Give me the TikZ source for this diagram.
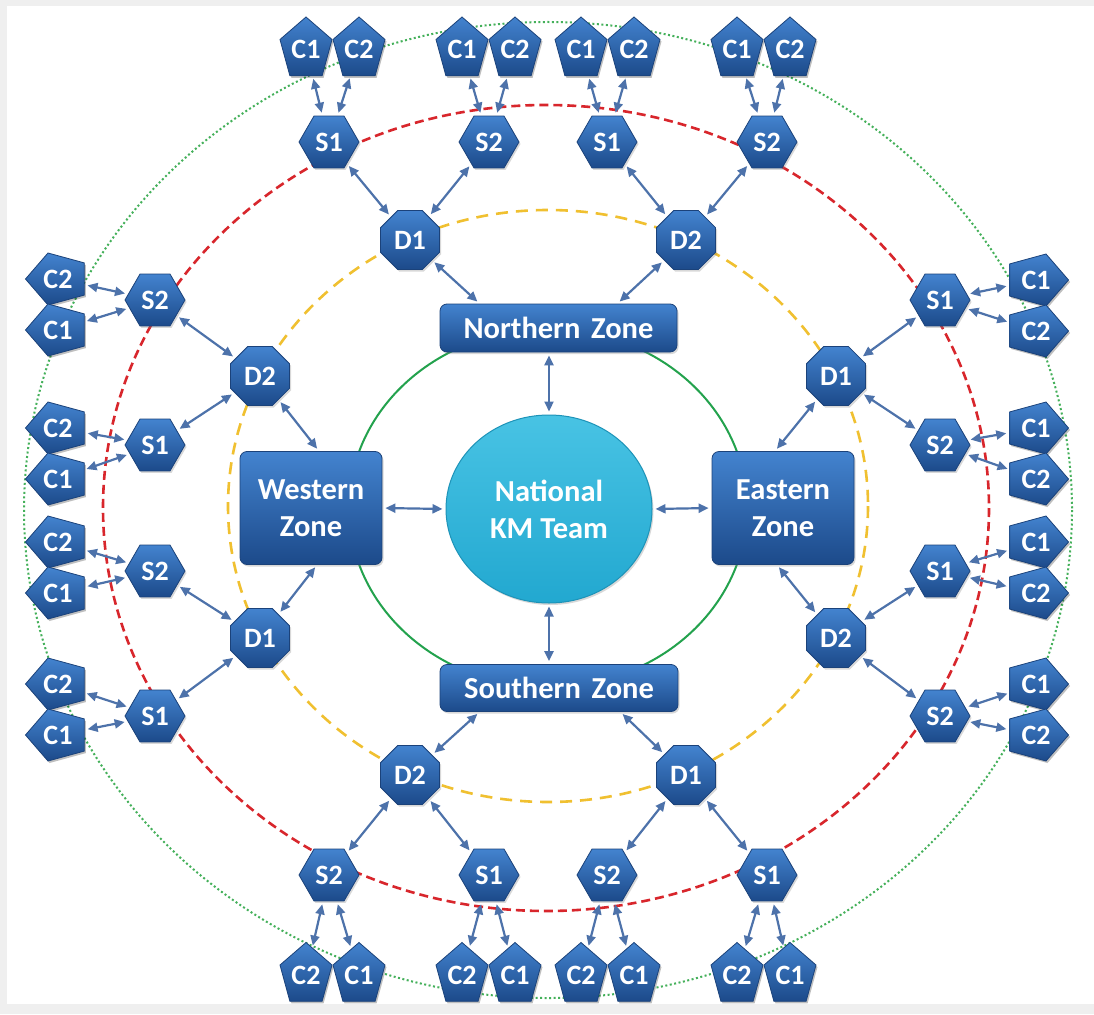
\documentclass[tikz,border=0pt]{standalone}
\usepackage{fontspec}
\setmainfont{Carlito}
\usetikzlibrary{shapes.geometric,arrows.meta,shadows}
\definecolor{nodetop}{HTML}{4383CF}
\definecolor{nodebot}{HTML}{1C4A8A}
\definecolor{nodeedge}{HTML}{1B427A}
\definecolor{arrowc}{HTML}{4D72AA}
\definecolor{kmtop}{HTML}{48C3E4}
\definecolor{kmbot}{HTML}{22A8D0}
\definecolor{kmedge}{HTML}{1D93B8}
\definecolor{ringgreen}{HTML}{23A24D}
\definecolor{ringyellow}{HTML}{F0C030}
\definecolor{ringred}{HTML}{D8262C}
\definecolor{ringdot}{HTML}{44B05A}
\definecolor{framegray}{HTML}{EFEFEF}
\pgfdeclarelayer{bglayer}
\pgfdeclarelayer{pentlayer}
\pgfsetlayers{bglayer,pentlayer,main}
\newcommand\pentup[1]{\begin{pgfonlayer}{pentlayer}
  \fill[pshadow, shift={(#1.center)}, xshift=1.5pt, yshift=-2pt] (0pt,32.5pt) -- (-26pt,10pt) -- (-16.1pt,-26.3pt) -- (16.1pt,-26.3pt) -- (26pt,10pt) -- cycle;
  \shadedraw[pent, shift={(#1.center)}] (0pt,32.5pt) -- (-26pt,10pt) -- (-16.1pt,-26.3pt) -- (16.1pt,-26.3pt) -- (26pt,10pt) -- cycle;
  \end{pgfonlayer}}
\newcommand\pentright[1]{\begin{pgfonlayer}{pentlayer}
  \fill[pshadow, shift={(#1.center)}, xshift=1.5pt, yshift=-2pt] (32.5pt,0pt) -- (10pt,26pt) -- (-26.3pt,16.1pt) -- (-26.3pt,-16.1pt) -- (10pt,-26pt) -- cycle;
  \shadedraw[pent, shift={(#1.center)}] (32.5pt,0pt) -- (10pt,26pt) -- (-26.3pt,16.1pt) -- (-26.3pt,-16.1pt) -- (10pt,-26pt) -- cycle;
  \end{pgfonlayer}}
\newcommand\pentleft[1]{\begin{pgfonlayer}{pentlayer}
  \fill[pshadow, shift={(#1.center)}, xshift=1.5pt, yshift=-2pt] (-32.5pt,0pt) -- (-10pt,26pt) -- (26.3pt,16.1pt) -- (26.3pt,-16.1pt) -- (-10pt,-26pt) -- cycle;
  \shadedraw[pent, shift={(#1.center)}] (-32.5pt,0pt) -- (-10pt,26pt) -- (26.3pt,16.1pt) -- (26.3pt,-16.1pt) -- (-10pt,-26pt) -- cycle;
  \end{pgfonlayer}}
\begin{document}
\begin{tikzpicture}[x=1pt,y=-1pt,
  labelfont/.style={font=\bfseries\fontsize{28}{37}\selectfont},
  bigfont/.style={font=\bfseries\fontsize{30.5}{37}\selectfont},
  bluefill/.style={top color=nodetop, bottom color=nodebot, draw=nodeedge, line width=0.8pt, text=white, labelfont},
  shadowed/.style={drop shadow={shadow xshift=1.5pt, shadow yshift=-2pt, opacity=0.3}},
  snode/.style={bluefill, shadowed, regular polygon, regular polygon sides=6, minimum size=60pt, inner sep=0pt},
  dnode/.style={bluefill, shadowed, regular polygon, regular polygon sides=8, minimum size=64pt, inner sep=0pt},
  zone/.style={bluefill, bigfont, shadowed, rounded corners=7pt, align=center, inner sep=0pt},
  kmnode/.style={ellipse, minimum width=206pt, minimum height=188pt, top color=kmtop, bottom color=kmbot, draw=kmedge, line width=1pt, text=white, bigfont, align=center, shadowed, inner sep=0pt},
  cnode/.style={circle, minimum size=54pt, inner sep=0pt, text=white, labelfont},
  pent/.style={top color=nodetop, bottom color=nodebot, draw=nodeedge, line width=0.8pt},
  pshadow/.style={fill=black, opacity=0.25},
  conn/.style={draw=arrowc, line width=2.2pt, {Triangle[length=10pt,width=9pt]}-{Triangle[length=10pt,width=9pt]}, shorten >=3pt, shorten <=3pt},
  ringsolid/.style={draw=ringgreen, line width=2pt},
  ringyel/.style={draw=ringyellow, line width=2.6pt, dash pattern=on 12pt off 8pt},
  ringrd/.style={draw=ringred, line width=2.6pt, dash pattern=on 9pt off 5pt},
  ringdt/.style={draw=ringdot, line width=2pt, dash pattern=on 2pt off 2.5pt}
]
\useasboundingbox (0,0) rectangle (1094,1014);
\begin{pgfonlayer}{bglayer}
\fill[framegray] (0,0) rectangle (1094,1014);
\fill[white] (7,6) rectangle (1094,1004);
% rings
\draw[ringdt] (548,510) ellipse [x radius=524, y radius=488];
\draw[ringrd] (546,508) ellipse [x radius=443, y radius=403];
\draw[ringyel] (548,506) ellipse [x radius=320, y radius=296];
\draw[ringsolid] (548,508) ellipse [x radius=199, y radius=179];
\end{pgfonlayer}

% centre and zones
\node[kmnode] (km) at (549,509) {National\\KM Team};
\node[zone, minimum width=237pt, minimum height=48pt] (nz) at (558.5,328) {Northern\hspace{0.35em}Zone};
\node[zone, minimum width=238pt, minimum height=47pt] (sz) at (559,688) {Southern\hspace{0.35em}Zone};
\node[zone, minimum width=142pt, minimum height=113pt] (wz) at (311,508) {Western\\Zone};
\node[zone, minimum width=142pt, minimum height=113pt] (ez) at (783,508) {Eastern\\Zone};

% D nodes
\node[dnode] (dT1) at (410,240) {D1};
\node[dnode] (dT2) at (686,240) {D2};
\node[dnode] (dB1) at (410,775) {D2};
\node[dnode] (dB2) at (686,775) {D1};
\node[dnode] (dL1) at (260,376) {D2};
\node[dnode] (dL2) at (260,638) {D1};
\node[dnode] (dR1) at (836,376) {D1};
\node[dnode] (dR2) at (836,638) {D2};

% S nodes
\node[snode] (sT1) at (329,142) {S1};
\node[snode] (sT2) at (489,142) {S2};
\node[snode] (sT3) at (607,142) {S1};
\node[snode] (sT4) at (767,142) {S2};
\node[snode] (sB1) at (329,875) {S2};
\node[snode] (sB2) at (489,875) {S1};
\node[snode] (sB3) at (607,875) {S2};
\node[snode] (sB4) at (767,875) {S1};
\node[snode] (sL1) at (155,300) {S2};
\node[snode] (sL2) at (155,445) {S1};
\node[snode] (sL3) at (155,571) {S2};
\node[snode] (sL4) at (155,716) {S1};
\node[snode] (sR1) at (940,300) {S1};
\node[snode] (sR2) at (940,445) {S2};
\node[snode] (sR3) at (940,571) {S1};
\node[snode] (sR4) at (940,716) {S2};

% C nodes top
\node[cnode] (cT1a) at (306,49.5) {C1};
\node[cnode] (cT1b) at (359,49.5) {C2};
\node[cnode] (cT2a) at (462,49.5) {C1};
\node[cnode] (cT2b) at (515,49.5) {C2};
\node[cnode] (cT3a) at (581,49.5) {C1};
\node[cnode] (cT3b) at (634,49.5) {C2};
\node[cnode] (cT4a) at (737,49.5) {C1};
\node[cnode] (cT4b) at (790,49.5) {C2};
% C nodes bottom
\node[cnode] (cB1a) at (306,975) {C2};
\node[cnode] (cB1b) at (359,975) {C1};
\node[cnode] (cB2a) at (462,975) {C2};
\node[cnode] (cB2b) at (515,975) {C1};
\node[cnode] (cB3a) at (581,975) {C2};
\node[cnode] (cB3b) at (634,975) {C1};
\node[cnode] (cB4a) at (737,975) {C2};
\node[cnode] (cB4b) at (790,975) {C1};
% C nodes left
\node[cnode] (cL1a) at (58,279) {C2};
\node[cnode] (cL1b) at (58,330) {C1};
\node[cnode] (cL2a) at (58,428) {C2};
\node[cnode] (cL2b) at (58,479) {C1};
\node[cnode] (cL3a) at (58,542) {C2};
\node[cnode] (cL3b) at (58,593) {C1};
\node[cnode] (cL4a) at (58,684) {C2};
\node[cnode] (cL4b) at (58,735) {C1};
% C nodes right
\node[cnode] (cR1a) at (1036,280) {C1};
\node[cnode] (cR1b) at (1036,331) {C2};
\node[cnode] (cR2a) at (1036,428) {C1};
\node[cnode] (cR2b) at (1036,479) {C2};
\node[cnode] (cR3a) at (1036,542) {C1};
\node[cnode] (cR3b) at (1036,593) {C2};
\node[cnode] (cR4a) at (1036,684) {C1};
\node[cnode] (cR4b) at (1036,735) {C2};

% pentagon bodies of the C nodes
\pentup{cT1a}\pentup{cT1b}\pentup{cT2a}\pentup{cT2b}
\pentup{cT3a}\pentup{cT3b}\pentup{cT4a}\pentup{cT4b}
\pentup{cB1a}\pentup{cB1b}\pentup{cB2a}\pentup{cB2b}
\pentup{cB3a}\pentup{cB3b}\pentup{cB4a}\pentup{cB4b}
\pentleft{cL1a}\pentleft{cL1b}\pentleft{cL2a}\pentleft{cL2b}
\pentleft{cL3a}\pentleft{cL3b}\pentleft{cL4a}\pentleft{cL4b}
\pentright{cR1a}\pentright{cR1b}\pentright{cR2a}\pentright{cR2b}
\pentright{cR3a}\pentright{cR3b}\pentright{cR4a}\pentright{cR4b}

% zones to centre
\draw[conn] (nz.south -| km.north) -- (km.north);
\draw[conn] (sz.north -| km.south) -- (km.south);
\draw[conn] (wz.east) -- (km.west);
\draw[conn] (ez.west) -- (km.east);

% D to zones
\draw[conn] (dT1) -- ([xshift=40pt]nz.north west);
\draw[conn] (dT2) -- ([xshift=-60pt]nz.north east);
\draw[conn] (dB1) -- ([xshift=40pt]sz.south west);
\draw[conn] (dB2) -- ([xshift=-58pt]sz.south east);
\draw[conn] (dL1) -- ([xshift=8pt]wz.north);
\draw[conn] (dL2) -- ([xshift=6pt]wz.south);
\draw[conn] (dR1) -- ([xshift=-8pt]ez.north);
\draw[conn] (dR2) -- ([xshift=-6pt]ez.south);

% S to D
\draw[conn] (sT1) -- (dT1);
\draw[conn] (sT2) -- (dT1);
\draw[conn] (sT3) -- (dT2);
\draw[conn] (sT4) -- (dT2);
\draw[conn] (sB1) -- (dB1);
\draw[conn] (sB2) -- (dB1);
\draw[conn] (sB3) -- (dB2);
\draw[conn] (sB4) -- (dB2);
\draw[conn] (sL1) -- (dL1);
\draw[conn] (sL2) -- (dL1);
\draw[conn] (sL3) -- (dL2);
\draw[conn] (sL4) -- (dL2);
\draw[conn] (sR1) -- (dR1);
\draw[conn] (sR2) -- (dR1);
\draw[conn] (sR3) -- (dR2);
\draw[conn] (sR4) -- (dR2);

% C to S
\draw[conn] (cT1a) -- (sT1); \draw[conn] (cT1b) -- (sT1);
\draw[conn] (cT2a) -- (sT2); \draw[conn] (cT2b) -- (sT2);
\draw[conn] (cT3a) -- (sT3); \draw[conn] (cT3b) -- (sT3);
\draw[conn] (cT4a) -- (sT4); \draw[conn] (cT4b) -- (sT4);
\draw[conn] (cB1a) -- (sB1); \draw[conn] (cB1b) -- (sB1);
\draw[conn] (cB2a) -- (sB2); \draw[conn] (cB2b) -- (sB2);
\draw[conn] (cB3a) -- (sB3); \draw[conn] (cB3b) -- (sB3);
\draw[conn] (cB4a) -- (sB4); \draw[conn] (cB4b) -- (sB4);
\draw[conn] (cL1a) -- (sL1); \draw[conn] (cL1b) -- (sL1);
\draw[conn] (cL2a) -- (sL2); \draw[conn] (cL2b) -- (sL2);
\draw[conn] (cL3a) -- (sL3); \draw[conn] (cL3b) -- (sL3);
\draw[conn] (cL4a) -- (sL4); \draw[conn] (cL4b) -- (sL4);
\draw[conn] (cR1a) -- (sR1); \draw[conn] (cR1b) -- (sR1);
\draw[conn] (cR2a) -- (sR2); \draw[conn] (cR2b) -- (sR2);
\draw[conn] (cR3a) -- (sR3); \draw[conn] (cR3b) -- (sR3);
\draw[conn] (cR4a) -- (sR4); \draw[conn] (cR4b) -- (sR4);
\end{tikzpicture}
\end{document}
